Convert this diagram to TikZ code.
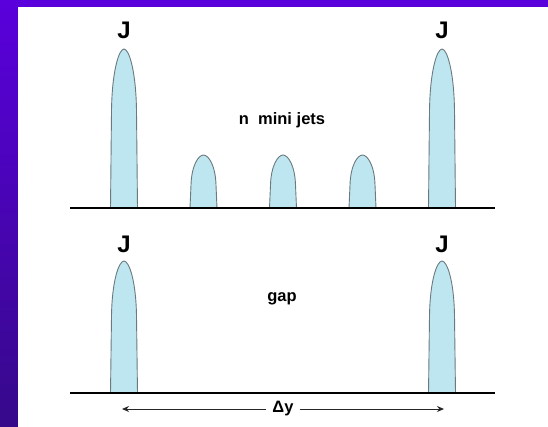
\documentclass[tikz,border=0pt]{standalone}
\usepackage{fontspec}
\setmainfont{Liberation Sans}
\usetikzlibrary{arrows.meta}
\definecolor{bgtop}{HTML}{5A00DC}
\definecolor{bgbot}{HTML}{36098A}
\definecolor{jetfill}{HTML}{BEE6F0}
\definecolor{jetline}{HTML}{6A7A80}
\tikzset{
  jet/.style={fill=jetfill,draw=jetline,line width=0.9pt},
  baseline/.style={line width=2.6pt,black},
  jlabel/.style={font=\bfseries\fontsize{24}{24}\selectfont,anchor=base,inner sep=0pt},
  txt/.style={font=\bfseries\fontsize{16.5}{17}\selectfont,anchor=base,inner sep=0pt},
  dim/.style={line width=1pt,draw=black!85,-{Stealth[length=7pt,width=6pt]}}
}
% \jetshape{cx}{base}{top}{curve height}
\newcommand{\jetshape}[4]{%
  \path[jet] (#1-13.5,#2) -- (#1-12.5,#3+#4)
    .. controls (#1-12,#3+0.35*#4) and (#1-5,#3) .. (#1,#3)
    .. controls (#1+5,#3) and (#1+12,#3+0.35*#4) .. (#1+12.5,#3+#4)
    -- (#1+13.5,#2) -- cycle;}
\begin{document}
\begin{tikzpicture}[x=1pt,y=-1pt]
\useasboundingbox (0,0) rectangle (548,426);
\shade[top color=bgtop,bottom color=bgbot] (0,0) rectangle (548,426);
\fill[white] (17.5,7) rectangle (552,430);
% top panel
\jetshape{124}{208}{49}{62}
\jetshape{442}{208}{49}{62}
\jetshape{203.5}{208}{155}{30}
\jetshape{283}{208}{155}{30}
\jetshape{362.5}{208}{155}{30}
\draw[baseline] (70,208) -- (495,208);
\node[jlabel] (j1) at (124,38) {J};
\node[jlabel] (j2) at (442,38) {J};
\node[txt] (mini) at (282,124) {n\ \ mini jets};
% bottom panel
\jetshape{124}{393}{261}{55}
\jetshape{442}{393}{261}{55}
\draw[baseline] (70,393) -- (495,393);
\node[jlabel] (j3) at (124,252) {J};
\node[jlabel] (j4) at (442,252) {J};
\node[txt] (gap) at (282,301) {gap};
% delta y
\coordinate (dl) at (122,409);
\coordinate (dr) at (444,409);
\node[font=\bfseries\fontsize{16.5}{17}\selectfont,inner xsep=6pt,inner ysep=0pt] (dy) at (283,409) {Δy};
\draw[dim] (dy.west) -- (dl);
\draw[dim] (dy.east) -- (dr);
\end{tikzpicture}
\end{document}
